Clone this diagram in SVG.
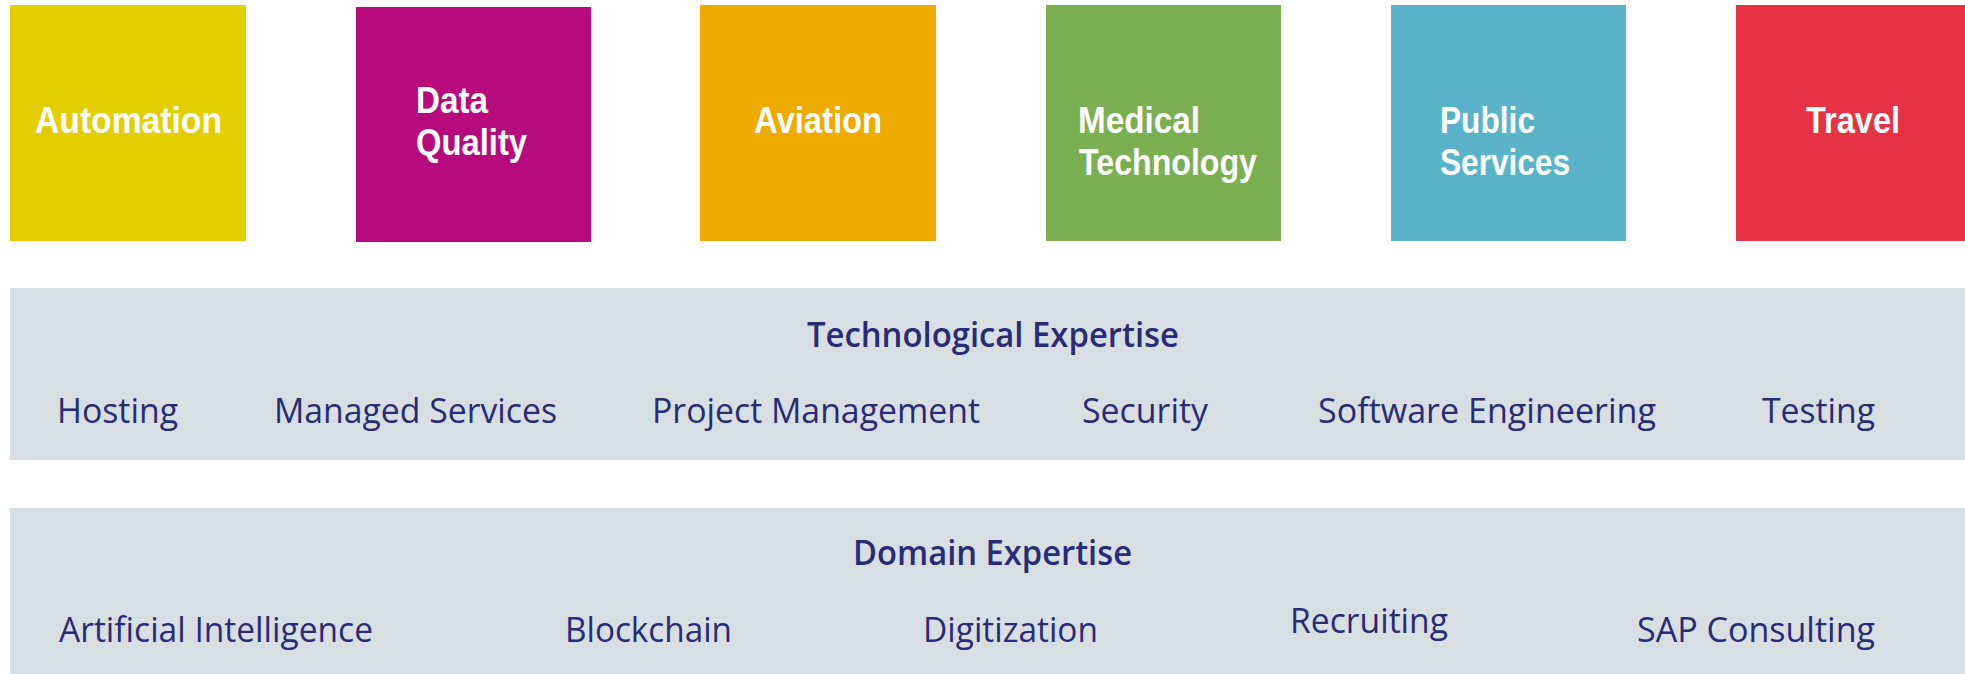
<svg xmlns="http://www.w3.org/2000/svg" width="1965" height="674" viewBox="0 0 1965 674">
<style>
.lbl{font-family:"Liberation Sans","Open Sans",sans-serif;font-size:36px;font-weight:600;fill:#ffffff}
.band{fill:#d8dfe3}
.ttl{font-family:"Open Sans","Liberation Sans",sans-serif;font-size:34px;font-weight:600;fill:#272c78}
.itm{font-family:"Open Sans","Liberation Sans",sans-serif;font-size:35px;font-weight:400;fill:#272c78}
</style>
<rect width="1965" height="674" fill="#ffffff"/>
<g id="automation">
<rect x="10" y="5" width="236" height="236" fill="#e3cf00"/>
<text class="lbl" x="35" y="133" textLength="187" lengthAdjust="spacingAndGlyphs">Automation</text>
</g>
<g id="data-quality">
<rect x="356" y="7" width="235" height="235" fill="#b70a7d"/>
<text class="lbl" x="416" y="113" textLength="72" lengthAdjust="spacingAndGlyphs">Data</text>
<text class="lbl" x="416" y="155" textLength="111" lengthAdjust="spacingAndGlyphs">Quality</text>
</g>
<g id="aviation">
<rect x="700" y="5" width="236" height="236" fill="#f0ab00"/>
<text class="lbl" x="754" y="133" textLength="128" lengthAdjust="spacingAndGlyphs">Aviation</text>
</g>
<g id="medical-technology">
<rect x="1046" y="5" width="235" height="236" fill="#7ab051"/>
<text class="lbl" x="1078" y="133" textLength="122" lengthAdjust="spacingAndGlyphs">Medical</text>
<text class="lbl" x="1079" y="175" textLength="178" lengthAdjust="spacingAndGlyphs">Technology</text>
</g>
<g id="public-services">
<rect x="1391" y="5" width="235" height="236" fill="#5ab4c9"/>
<text class="lbl" x="1440" y="133" textLength="95" lengthAdjust="spacingAndGlyphs">Public</text>
<text class="lbl" x="1440" y="175" textLength="130" lengthAdjust="spacingAndGlyphs">Services</text>
</g>
<g id="travel">
<rect x="1736" y="5" width="236" height="236" fill="#e63244"/>
<text class="lbl" x="1806" y="133" textLength="94" lengthAdjust="spacingAndGlyphs">Travel</text>
</g>
<g id="technological-expertise">
<rect class="band" x="10" y="288" width="1965" height="172"/>
<text class="ttl" x="807" y="347" textLength="372" lengthAdjust="spacingAndGlyphs">Technological Expertise</text>
<text class="itm" x="57" y="423" textLength="121" lengthAdjust="spacingAndGlyphs">Hosting</text>
<text class="itm" x="274" y="423" textLength="283" lengthAdjust="spacingAndGlyphs">Managed Services</text>
<text class="itm" x="652" y="423" textLength="328" lengthAdjust="spacingAndGlyphs">Project Management</text>
<text class="itm" x="1082" y="423" textLength="126" lengthAdjust="spacingAndGlyphs">Security</text>
<text class="itm" x="1318" y="423" textLength="338" lengthAdjust="spacingAndGlyphs">Software Engineering</text>
<text class="itm" x="1762" y="423" textLength="113" lengthAdjust="spacingAndGlyphs">Testing</text>
</g>
<g id="domain-expertise">
<rect class="band" x="10" y="508" width="1965" height="180"/>
<text class="ttl" x="853" y="565" textLength="279" lengthAdjust="spacingAndGlyphs">Domain Expertise</text>
<text class="itm" x="59" y="642" textLength="314" lengthAdjust="spacingAndGlyphs">Artificial Intelligence</text>
<text class="itm" x="565" y="642" textLength="167" lengthAdjust="spacingAndGlyphs">Blockchain</text>
<text class="itm" x="923" y="642" textLength="175" lengthAdjust="spacingAndGlyphs">Digitization</text>
<text class="itm" x="1290" y="633" textLength="158" lengthAdjust="spacingAndGlyphs">Recruiting</text>
<text class="itm" x="1637" y="642" textLength="238" lengthAdjust="spacingAndGlyphs">SAP Consulting</text>
</g>
<g id="connectors"></g>
</svg>
